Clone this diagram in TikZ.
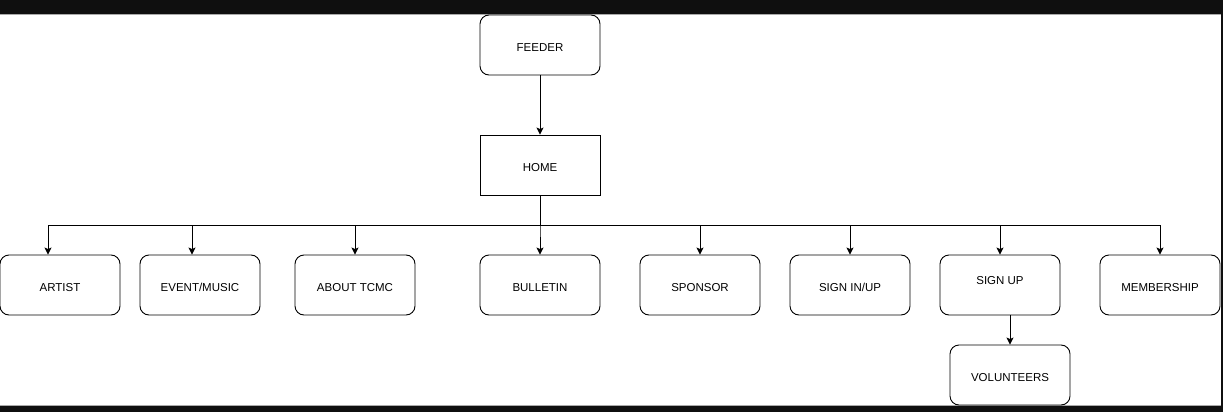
\documentclass[tikz,border=0pt]{standalone}
\usepackage{fontspec}
\setmainfont{Liberation Sans}
\usetikzlibrary{arrows.meta}
\definecolor{frame}{HTML}{0F0F0F}

\begin{document}
\begin{tikzpicture}[x=1pt, y=-1pt, line width=0.9pt, font=\fontsize{11.5}{13}\selectfont,
  page/.style={draw, rounded corners=9pt, minimum width=120pt, minimum height=60pt, inner sep=0pt,
    text height=13.5pt, text depth=0pt},
  link/.style={-{Stealth[length=7pt,width=7pt,inset=1.5pt]}}]
  \useasboundingbox (0,0) rectangle (1223,412);
  % feeder and home
  \node[page] (feeder) at (540,45) {FEEDER};
  \node[page, rounded corners=0pt] (home) at (540,165) {HOME};
  \draw[link] (feeder) -- (home);
  % pages below home
  \foreach \n/\x/\s/\t in {artist/60/-12/ARTIST, event/200/-8/{EVENT/MUSIC},
      about/355/0/ABOUT TCMC, bulletin/540/0/BULLETIN, sponsor/700/0/SPONSOR,
      signin/850/0/{SIGN IN/UP}, member/1160/0/MEMBERSHIP} {
    \node[page] (\n) at (\x,285) {\t};
    \draw[link] (home.south) -- ++(0,30) -| ([xshift=\s]\n.north);
  }
  % sign up, text sits high
  \node[page, text height=8.2pt, text depth=10pt] (signup) at (1000,285) {SIGN UP};
  \draw[link] (home.south) -- ++(0,30) -| (signup.north);
  \node[page] (volunteers) at (1010,375) {VOLUNTEERS};
  \draw[link] (volunteers.north |- signup.south) -- (volunteers.north);
  % screen frame
  \fill[frame] (0,0) rectangle (1223,14.5)
    (0,405.5) rectangle (1223,412)
    (1221,0) rectangle (1223,412);
\end{tikzpicture}
\end{document}
